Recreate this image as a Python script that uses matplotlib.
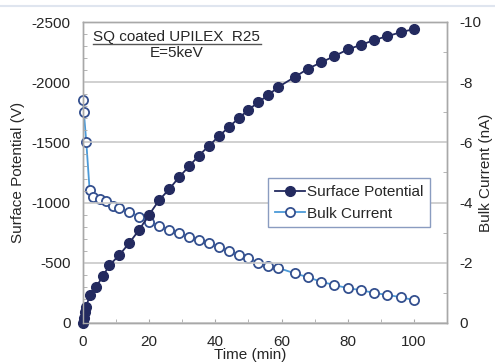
import matplotlib
matplotlib.use("Agg")
import matplotlib.pyplot as plt
from matplotlib.lines import Line2D
from matplotlib.ticker import MultipleLocator

plt.rcParams['font.family'] = ['Liberation Sans', 'DejaVu Sans']
plt.rcParams['axes.unicode_minus'] = False

# surface potential (V) vs time (min)
t_sp = [0, 0.25, 0.5, 1, 2, 4, 6, 8, 11, 14, 17, 20, 23, 26, 29, 32, 35, 38,
        41, 44, 47, 50, 53, 56, 59, 64, 68, 72, 76, 80, 84, 88, 92, 96, 100]
v_sp = [0, -40, -90, -135, -230, -300, -390, -480, -565, -665, -775, -900,
        -1020, -1110, -1210, -1300, -1390, -1470, -1550, -1625, -1700, -1770,
        -1835, -1893, -1960, -2043, -2112, -2165, -2217, -2272, -2310, -2350,
        -2383, -2414, -2442]

# bulk current (nA) vs time (min)
t_bc = [0, 0.25, 1, 2, 3, 5, 7, 9, 11, 14, 17, 20, 23, 26, 29, 32, 35, 38,
        41, 44, 47, 50, 53, 56, 59, 64, 68, 72, 76, 80, 84, 88, 92, 96, 100]
i_bc = [-7.41, -7.02, -6.0, -4.42, -4.2, -4.12, -4.04, -3.9, -3.82, -3.69,
        -3.53, -3.37, -3.22, -3.1, -2.99, -2.86, -2.76, -2.66, -2.53, -2.38,
        -2.27, -2.16, -2.0, -1.9, -1.83, -1.65, -1.52, -1.37, -1.26, -1.16,
        -1.09, -1.0, -0.93, -0.86, -0.76]

navy = '#232a5f'
edge_blue = '#34508f'
line_blue = '#4b9ad8'
spine_gray = '#a8a8a8'
grid_gray = '#c8c8c8'
txt = '#262626'

fig = plt.figure(figsize=(4.95, 3.64), dpi=100)
ax = fig.add_axes([83/495, 1 - 323/364, 364/495, 301/364])
ax2 = ax.twinx()

l1, = ax.plot(t_sp, v_sp, color=navy, lw=1.3, marker='o', ms=7,
              mfc=navy, mec=navy, clip_on=False, label='Surface Potential')
l2, = ax2.plot(t_bc, i_bc, color=line_blue, lw=1.3, marker='o', ms=6.6,
               mfc='white', mec=edge_blue, mew=1.3, clip_on=False,
               label='Bulk Current')
ax.set_zorder(ax2.get_zorder() + 1)
ax.patch.set_visible(False)

ax.set_xlim(0, 110)
ax.set_ylim(0, -2500)
ax2.set_ylim(0, -10)

ax.set_xticks([0, 20, 40, 60, 80, 100])
ax.xaxis.set_minor_locator(MultipleLocator(10))
ax.set_yticks([0, -500, -1000, -1500, -2000, -2500])
ax.yaxis.set_minor_locator(MultipleLocator(100))
ax2.set_yticks([0, -2, -4, -6, -8, -10])
ax2.yaxis.set_minor_locator(MultipleLocator(1))

for a in (ax, ax2):
    for s in a.spines.values():
        s.set_color(spine_gray)
        s.set_linewidth(1.0)
    a.tick_params(which='major', direction='in', length=0, pad=9,
                  labelsize=11, labelcolor=txt, color=spine_gray)
    a.tick_params(which='minor', direction='in', length=3, color=spine_gray)
ax.tick_params(axis='x', which='major', length=3, pad=9)

ax.grid(axis='y', which='major', color=grid_gray, lw=1.2)
ax.set_axisbelow(True)

ax.set_xlabel('Time (min)', fontsize=11, color=txt)
ax.xaxis.set_label_coords((250 - 83) / 364, (323 - 355) / 301)
ax.xaxis.label.set_va('center')
ax.set_ylabel('Surface Potential (V)', fontsize=11, color=txt)
ax.yaxis.set_label_coords((18 - 83) / 364, 0.5)
ax.yaxis.label.set_va('center')
ax2.set_ylabel('Bulk Current (nA)', fontsize=11, color=txt, rotation=90)
ax2.yaxis.set_label_coords((486 - 83) / 364, 0.5)
ax2.yaxis.label.set_va('center')

# sample name, underlined, and beam energy
ax.text((93 - 83) / 364, (323 - 41) / 301, 'SQ coated UPILEX  R25',
        transform=ax.transAxes, fontsize=11, color=txt, ha='left', va='baseline')
ax.plot([(93 - 83) / 364, (261 - 83) / 364], [(323 - 44) / 301] * 2,
        transform=ax.transAxes, color='#555555', lw=1.0, clip_on=False)
ax.text((177 - 83) / 364, (323 - 53) / 301, 'E=5keV', transform=ax.transAxes,
        fontsize=11, color=txt, ha='center', va='center')

leg = ax.legend(handles=[l1, l2], loc='upper left',
                bbox_to_anchor=(268 / 495, 1 - 178 / 364),
                bbox_transform=fig.transFigure, fontsize=11, frameon=True,
                fancybox=False, edgecolor='#8a9cc0', framealpha=1,
                handlelength=2.0, handletextpad=0.1, borderpad=0.45,
                labelspacing=0.5, borderaxespad=0)
leg.get_frame().set_linewidth(1.0)
for t in leg.get_texts():
    t.set_color(txt)

fig.add_artist(Line2D([0, 1], [1 - 6 / 364] * 2, color='#dfe5ef', lw=1.5,
                      transform=fig.transFigure))

fig.savefig('out.png', dpi=100)
